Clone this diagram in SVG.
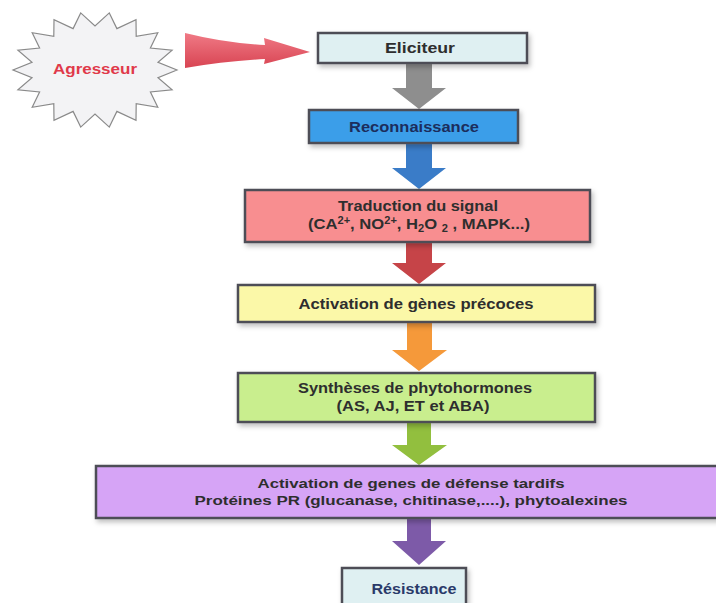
<svg xmlns="http://www.w3.org/2000/svg" width="716" height="603" viewBox="0 0 716 603">
<defs>
<filter id="sh" x="-10%" y="-30%" width="130%" height="180%">
<feDropShadow dx="2" dy="3" stdDeviation="2.5" flood-color="#000" flood-opacity="0.25"/>
</filter>
<linearGradient id="redg" x1="0" y1="0" x2="0" y2="1">
<stop offset="0" stop-color="#f07a86"/>
<stop offset="1" stop-color="#d84452"/>
</linearGradient>
<style>
.box{stroke:#4e4e56;stroke-width:2.5;filter:url(#sh)}
.t{font-family:"Liberation Sans",Arial,sans-serif;font-weight:bold;font-size:15px;text-anchor:middle;fill:#2e2e2e}
.arr{stroke:none}
</style>
</defs>
<rect width="716" height="603" fill="#ffffff"/>

<g id="agresseur">
<polygon points="177,70 158,77.7 172.1,89.8 150.4,92 157.8,107.3 136.2,103.7 136,120.2 116.9,111.4 109.3,127.1 95,114 80.7,127.1 73.1,111.4 54,120.2 53.8,103.7 32.2,107.3 39.6,92 17.9,89.8 32,77.7 13,70 32,62.3 17.9,50.2 39.6,48 32.2,32.7 53.8,36.3 54,19.8 73.1,28.6 80.7,12.9 95,26 109.3,12.9 116.9,28.6 136,19.8 136.2,36.3 157.8,32.7 150.4,48 172.1,50.2 158,62.3" fill="#f3f3f5" stroke="#8a8a8a" stroke-width="1.2"/>
<text class="t" x="95" y="74" textLength="84" lengthAdjust="spacingAndGlyphs" style="fill:#e0394a;font-size:14px">Agresseur</text>
</g>

<g id="connectors">
<path class="arr" d="M185,33 Q225,43 265,45 L264,38 L310,52 L264,64 L265,59 Q225,61 185,68 Z" fill="url(#redg)" stroke="#c04050" stroke-width="0.8"/>
<path class="arr" d="M406,64 H432 V88 H446 L419,109 L392,88 H406 Z" fill="#8e8e8e"/>
<path class="arr" d="M406,144 H432 V168 H446 L419,189 L392,168 H406 Z" fill="#3a7cc8"/>
<path class="arr" d="M406,243 H432 V263 H446 L419,284 L392,263 H406 Z" fill="#c64448"/>
<path class="arr" d="M407,323 H432 V350 H447 L419,371 L392,350 H407 Z" fill="#f5993a"/>
<path class="arr" d="M407,423 H431 V445 H447 L419,465 L392,445 H407 Z" fill="#92bf3e"/>
<path class="arr" d="M407,519 H431 V541 H446 L419,565 L392,541 H407 Z" fill="#7d5aa8"/>
</g>

<g id="eliciteur">
<rect class="box" x="318" y="33" width="209" height="30" fill="#dff0f2"/>
<text class="t" x="420" y="53" textLength="70" lengthAdjust="spacingAndGlyphs">Eliciteur</text>
</g>

<g id="reconnaissance">
<rect class="box" x="309" y="110" width="209" height="33" fill="#3b9ee9"/>
<text class="t" x="414" y="132" textLength="130" lengthAdjust="spacingAndGlyphs" style="fill:#1c2d5c">Reconnaissance</text>
</g>

<g id="traduction">
<rect class="box" x="245" y="190" width="345" height="52" fill="#f88e90"/>
<text class="t" x="418" y="211" textLength="160" lengthAdjust="spacingAndGlyphs">Traduction du signal</text>
<text class="t" x="419" y="229" textLength="222" lengthAdjust="spacingAndGlyphs">(CA<tspan dy="-5" font-size="10">2+</tspan><tspan dy="5">, NO</tspan><tspan dy="-5" font-size="10">2+</tspan><tspan dy="5">, H</tspan><tspan dy="3" font-size="10">2</tspan><tspan dy="-3">O </tspan><tspan dy="3" font-size="10">2</tspan><tspan dy="-3"> , MAPK...)</tspan></text>
</g>

<g id="activation-precoces">
<rect class="box" x="238" y="285" width="357" height="37" fill="#fbf8a8"/>
<text class="t" x="416" y="309" textLength="235" lengthAdjust="spacingAndGlyphs">Activation de gènes précoces</text>
</g>

<g id="syntheses">
<rect class="box" x="238" y="373" width="357" height="49" fill="#c9ee8e"/>
<text class="t" x="415" y="393" textLength="234" lengthAdjust="spacingAndGlyphs">Synthèses de phytohormones</text>
<text class="t" x="413" y="411" textLength="153" lengthAdjust="spacingAndGlyphs">(AS, AJ, ET et ABA)</text>
</g>

<g id="activation-tardifs">
<rect class="box" x="96" y="466" width="630" height="52" fill="#d6a4f6"/>
<text class="t" x="411" y="488" textLength="307" lengthAdjust="spacingAndGlyphs" style="font-size:13.5px">Activation de genes de défense tardifs</text>
<text class="t" x="411" y="505" textLength="433" lengthAdjust="spacingAndGlyphs" style="font-size:13.5px">Protéines PR (glucanase, chitinase,....), phytoalexines</text>
</g>

<g id="resistance">
<rect class="box" x="342" y="568" width="124" height="45" fill="#dff0f2"/>
<text class="t" x="414" y="594" textLength="85" lengthAdjust="spacingAndGlyphs" style="fill:#2a3a6a">Résistance</text>
</g>
</svg>
